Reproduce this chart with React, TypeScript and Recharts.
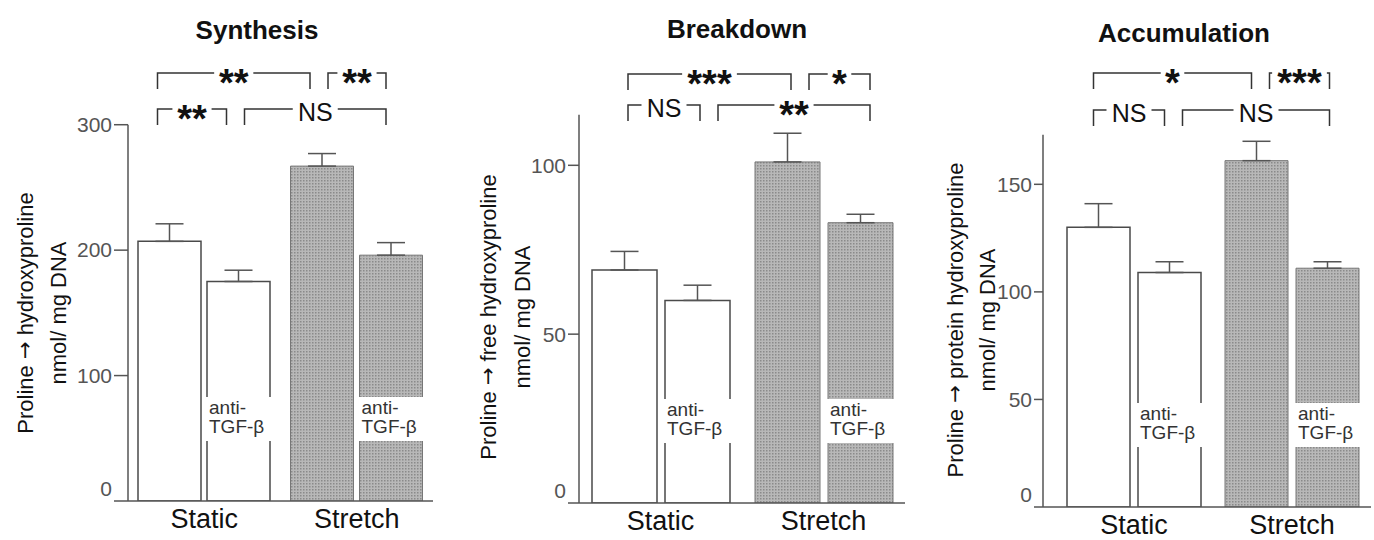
import React from 'react';
import { BarChart, Bar, XAxis, YAxis, Cell, ErrorBar, LabelList, ReferenceLine } from 'recharts';

const FONT = '"Liberation Sans", Arial, Helvetica, sans-serif';

const CATEGORIES = ['Static', 'Stretch'];

// Synthesis: proline -> hydroxyproline, nmol/mg DNA
const SYNTH_CONTROL = [207, 267];
const SYNTH_CONTROL_SD = [14, 10];
const SYNTH_ANTI = [175, 196];
const SYNTH_ANTI_SD = [9, 10];
const SYNTH_TICKS = [0, 100, 200, 300];

// Breakdown: proline -> free hydroxyproline
const BREAK_CONTROL = [69, 101];
const BREAK_CONTROL_SD = [5.5, 8.5];
const BREAK_ANTI = [60, 83];
const BREAK_ANTI_SD = [4.5, 2.5];
const BREAK_TICKS = [0, 50, 100];

// Accumulation: proline -> protein hydroxyproline
const ACCUM_CONTROL = [130, 161];
const ACCUM_CONTROL_SD = [11, 9];
const ACCUM_ANTI = [109, 111];
const ACCUM_ANTI_SD = [5, 3];
const ACCUM_TICKS = [0, 50, 100, 150];

// significance brackets, bars numbered 0..3 from left to right
const SYNTH_SIG = [
  { from: 0, to: 2, row: 0, label: '**' },
  { from: 2, to: 3, row: 0, label: '**' },
  { from: 0, to: 1, row: 1, label: '**' },
  { from: 1, to: 3, row: 1, label: 'NS' },
];
const BREAK_SIG = [
  { from: 0, to: 2, row: 0, label: '***' },
  { from: 2, to: 3, row: 0, label: '*' },
  { from: 0, to: 1, row: 1, label: 'NS' },
  { from: 1, to: 3, row: 1, label: '**' },
];
const ACCUM_SIG = [
  { from: 0, to: 2, row: 0, label: '*' },
  { from: 2, to: 3, row: 0, label: '***' },
  { from: 0, to: 1, row: 1, label: 'NS' },
  { from: 1, to: 3, row: 1, label: 'NS' },
];

const X_AXIS_H = 30;

const YTick = (props: any) => {
  const { x, y, payload } = props;
  const shift = payload.value === 0 ? -12 : 0;
  return (
    <text x={x} y={y + shift} dy="0.35em" textAnchor="end" fontSize={21} fill="#555" fontFamily={FONT}>
      {payload.value}
    </text>
  );
};

const AntiLabel = (props: any) => {
  const vb = props.viewBox && props.viewBox.width != null ? props.viewBox : props;
  const { x, y, width, height } = vb;
  const bottom = y + height;
  return (
    <g>
      <rect x={x - 2} y={bottom - 104} width={width + 4} height={44} fill="#fff" />
      <text x={x + 2} y={bottom - 94} dy="0.35em" fontSize={19} fill="#333" fontFamily={FONT}>anti-</text>
      <text x={x + 2} y={bottom - 75} dy="0.35em" fontSize={19} fill="#333" fontFamily={FONT}>TGF-β</text>
    </g>
  );
};

const BracketShape = (props: any) => {
  const { x1, x2, y1, text } = props;
  const drop = 16;
  const mid = (x1 + x2) / 2;
  const star = text.includes('*');
  const fs = star ? 38 : 25;
  const w = star ? text.length * fs * 0.41 + 8 : fs * 1.4 + 10;
  const ty = star ? y1 + 23 : y1 + 12;
  return (
    <g>
      <path
        d={`M${x1},${y1 + drop}V${y1}H${mid - w / 2}M${mid + w / 2},${y1}H${x2}V${y1 + drop}`}
        stroke="#333"
        strokeWidth={1.5}
        fill="none"
      />
      <text x={mid} y={ty} textAnchor="middle" fontSize={fs} fontWeight={star ? 'bold' : 'normal'} fill="#111" fontFamily={FONT}>
        {text}
      </text>
    </g>
  );
};

type Layout = {
  left: number; width: number; yAxisW: number; right: number; top: number; baseline: number;
  domainTop: number; axisTop: number; padLeft: number; catGap: number; barGap: number;
  tickSize: number; rows: number[]; sigShift: number;
  title: string; titleX: number; titleY: number;
  yLines: string[]; yLabelX: number[]; yLabelY: number;
};

function Panel({ layout, control, controlSd, anti, antiSd, ticks, sig }: any) {
  const L: Layout = layout;
  const plotW = L.width - L.yAxisW - L.right;
  const plotH = L.baseline - L.top;
  const pxPerUnit = plotH / L.domainTop;
  // the hidden "ann" axis runs in pixels across the plot, for the brackets
  const data = CATEGORIES.map((c, i) => ({
    group: c,
    control: control[i],
    controlErr: [0, controlSd[i]],
    anti: anti[i],
    antiErr: [0, antiSd[i]],
    ann: i === 0 ? 0 : plotW,
  }));
  const band = (plotW - L.padLeft) / 2;
  const size = Math.floor((band - 2 * L.catGap - L.barGap) / 2);
  const center = (i: number) =>
    L.padLeft + Math.floor(i / 2) * band + L.catGap + (i % 2) * (size + L.barGap) + size / 2;

  const fills = ['#fff', 'url(#stipple)'];
  const strokes = ['#4a4a4a', '#777'];
  const strokeW = [1.5, 1];

  return (
    <div style={{ position: 'absolute', left: L.left, top: 0, width: L.width, height: 540 }}>
      <BarChart
        width={L.width}
        height={540}
        data={data}
        margin={{ top: L.top, right: L.right, bottom: 540 - L.baseline - X_AXIS_H, left: 0 }}
        barCategoryGap={L.catGap}
        barGap={L.barGap}
      >
        <XAxis
          dataKey="group"
          height={X_AXIS_H}
          padding={{ left: L.padLeft, right: 0 }}
          axisLine={{ stroke: '#555', strokeWidth: 1.5 }}
          tickLine={false}
          tickSize={6}
          tickMargin={2}
          tick={{ fontSize: 27, fill: '#111', fontFamily: FONT }}
        />
        <XAxis xAxisId="ann" dataKey="ann" type="number" domain={[0, plotW]} allowDataOverflow hide />
        <YAxis
          width={L.yAxisW}
          domain={[0, L.domainTop]}
          allowDataOverflow
          ticks={ticks}
          interval={0}
          axisLine={false}
          tickLine={{ stroke: '#555', strokeWidth: 1.5 }}
          tickSize={L.tickSize}
          tickMargin={2}
          tick={<YTick />}
        />
        <Bar dataKey="control" isAnimationActive={false}>
          {data.map((d, i) => (
            <Cell key={d.group} fill={fills[i]} stroke={strokes[i]} strokeWidth={strokeW[i]} />
          ))}
          <ErrorBar dataKey="controlErr" width={14} stroke="#555" strokeWidth={1.5} />
        </Bar>
        <Bar dataKey="anti" isAnimationActive={false}>
          {data.map((d, i) => (
            <Cell key={d.group} fill={fills[i]} stroke={strokes[i]} strokeWidth={strokeW[i]} />
          ))}
          <ErrorBar dataKey="antiErr" width={14} stroke="#555" strokeWidth={1.5} />
          <LabelList dataKey="anti" content={AntiLabel} />
        </Bar>
        <ReferenceLine
          xAxisId="ann"
          segment={[{ x: 0, y: 0 }, { x: 0, y: L.axisTop }]}
          stroke="#555"
          strokeWidth={1.5}
          ifOverflow="visible"
        />
        {sig.map((s: any, k: number) => {
          const sharedStart = sig.some((o: any) => o.row === s.row && o.to === s.from);
          const sharedEnd = sig.some((o: any) => o.row === s.row && o.from === s.to);
          const x1 = center(s.from) + (sharedStart ? 13 : -5) + L.sigShift;
          const x2 = center(s.to) + (sharedEnd ? -5 : 2) + L.sigShift;
          const yv = L.rows[s.row] / pxPerUnit;
          return (
            <ReferenceLine
              key={k}
              xAxisId="ann"
              segment={[{ x: x1, y: yv }, { x: x2, y: yv }]}
              ifOverflow="visible"
              shape={<BracketShape text={s.label} />}
            />
          );
        })}
      </BarChart>
      <svg
        width={L.width}
        height={540}
        style={{ position: 'absolute', left: 0, top: 0, pointerEvents: 'none' }}
      >
        <text x={L.titleX - L.left} y={L.titleY} textAnchor="middle" fontSize={26} fontWeight="bold" fill="#111" fontFamily={FONT}>
          {L.title}
        </text>
        {L.yLines.map((line, i) => {
          const cx = L.yLabelX[i] - L.left;
          const parts = line.split('→');
          return (
            <text
              key={line}
              x={cx}
              y={L.yLabelY}
              transform={`rotate(-90 ${cx} ${L.yLabelY})`}
              textAnchor="middle"
              dominantBaseline="central"
              fontSize={22}
              fill="#111"
              fontFamily={FONT}
            >
              {parts.length > 1 ? (
                <>
                  {parts[0]}
                  <tspan fontFamily='"DejaVu Sans", sans-serif' fontSize={21}>→</tspan>
                  {parts[1]}
                </>
              ) : line}
            </text>
          );
        })}
      </svg>
    </div>
  );
}

const SYNTH_LAYOUT: Layout = {
  left: 0, width: 440, yAxisW: 128, right: 7, top: 62, baseline: 501,
  domainTop: 350, axisTop: 300, padLeft: 0, catGap: 10, barGap: 6,
  tickSize: 14, rows: [428, 392], sigShift: -7,
  title: 'Synthesis', titleX: 257, titleY: 39,
  yLines: ['Proline → hydroxyproline', 'nmol/ mg DNA'], yLabelX: [25, 58], yLabelY: 313,
};
const BREAK_LAYOUT: Layout = {
  left: 460, width: 454, yAxisW: 119, right: 9, top: 64, baseline: 503,
  domainTop: 130, axisTop: 115, padLeft: 0, catGap: 13, barGap: 8,
  tickSize: 11, rows: [429, 398], sigShift: 9,
  title: 'Breakdown', titleX: 737, titleY: 38,
  yLines: ['Proline → free hydroxyproline', 'nmol/ mg DNA'], yLabelX: [488, 522], yLabelY: 317,
};
const ACCUM_LAYOUT: Layout = {
  left: 920, width: 454, yAxisW: 123, right: 3, top: 66, baseline: 507,
  domainTop: 205, axisTop: 173, padLeft: 12, catGap: 12, barGap: 8,
  tickSize: 9, rows: [434, 397], sigShift: 0,
  title: 'Accumulation', titleX: 1184, titleY: 42,
  yLines: ['Proline → protein hydroxyproline', 'nmol/ mg DNA'], yLabelX: [955, 987], yLabelY: 320,
};

export default function App() {
  return (
    <div style={{ position: 'absolute', left: 0, top: 0, width: 1374, height: 540, background: '#fff', fontFamily: FONT }}>
      <svg width={0} height={0} style={{ position: 'absolute' }}>
        <defs>
          <pattern id="stipple" width={3} height={3} patternUnits="userSpaceOnUse">
            <rect width={3} height={3} fill="#b8b8b8" />
            <rect width={1.5} height={1.5} fill="#8a8a8a" />
          </pattern>
        </defs>
      </svg>
      <Panel layout={SYNTH_LAYOUT} control={SYNTH_CONTROL} controlSd={SYNTH_CONTROL_SD}
        anti={SYNTH_ANTI} antiSd={SYNTH_ANTI_SD} ticks={SYNTH_TICKS} sig={SYNTH_SIG} />
      <Panel layout={BREAK_LAYOUT} control={BREAK_CONTROL} controlSd={BREAK_CONTROL_SD}
        anti={BREAK_ANTI} antiSd={BREAK_ANTI_SD} ticks={BREAK_TICKS} sig={BREAK_SIG} />
      <Panel layout={ACCUM_LAYOUT} control={ACCUM_CONTROL} controlSd={ACCUM_CONTROL_SD}
        anti={ACCUM_ANTI} antiSd={ACCUM_ANTI_SD} ticks={ACCUM_TICKS} sig={ACCUM_SIG} />
    </div>
  );
}
